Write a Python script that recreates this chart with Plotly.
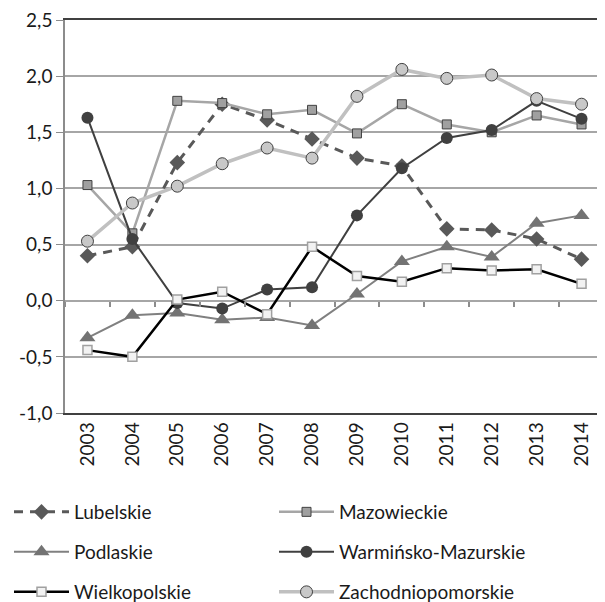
import plotly.graph_objects as go

years = ["2003", "2004", "2005", "2006", "2007", "2008", "2009", "2010", "2011", "2012", "2013", "2014"]
lubelskie = [0.40, 0.48, 1.23, 1.75, 1.61, 1.44, 1.27, 1.20, 0.64, 0.63, 0.55, 0.37]
mazowieckie = [1.03, 0.60, 1.78, 1.76, 1.66, 1.70, 1.49, 1.75, 1.57, 1.50, 1.65, 1.57]
podlaskie = [-0.33, -0.13, -0.11, -0.17, -0.15, -0.22, 0.06, 0.35, 0.48, 0.39, 0.69, 0.76]
warminsko = [1.63, 0.55, -0.02, -0.07, 0.10, 0.12, 0.76, 1.18, 1.45, 1.52, 1.78, 1.62]
wielkopolskie = [-0.44, -0.50, 0.01, 0.08, -0.12, 0.48, 0.22, 0.17, 0.29, 0.27, 0.28, 0.15]
zachodniopomorskie = [0.53, 0.87, 1.02, 1.22, 1.36, 1.27, 1.82, 2.06, 1.98, 2.01, 1.80, 1.75]
y_ticks = [-1.0, -0.5, 0.0, 0.5, 1.0, 1.5, 2.0, 2.5]
y_tick_labels = ["-1,0", "-0,5", "0,0", "0,5", "1,0", "1,5", "2,0", "2,5"]

fig = go.Figure()

# helper trace (invisible) carrying the category tick marks on the y=0 axis
fig.add_trace(go.Scatter(
    x=years, y=wielkopolskie, xaxis="x2", yaxis="y", mode="lines",
    line=dict(width=0), opacity=0, showlegend=False, hoverinfo="skip",
))

fig.add_trace(go.Scatter(
    x=years, y=lubelskie, name="Lubelskie", mode="lines+markers", legend="legend",
    line=dict(color="#595959", width=3, dash="9px,7px"),
    marker=dict(symbol="diamond", size=12, color="#595959"),
))
fig.add_trace(go.Scatter(
    x=years, y=mazowieckie, name="Mazowieckie", mode="lines+markers", legend="legend",
    line=dict(color="#a6a6a6", width=2.5),
    marker=dict(symbol="square", size=9, color="#a0a0a0", line=dict(color="#404040", width=1)),
))
fig.add_trace(go.Scatter(
    x=years, y=podlaskie, name="Podlaskie", mode="lines+markers", legend="legend2",
    line=dict(color="#808080", width=2),
    marker=dict(symbol="triangle-up", size=14, color="#737373"),
))
fig.add_trace(go.Scatter(
    x=years, y=warminsko, name="Warmińsko-Mazurskie", mode="lines+markers", legend="legend2",
    line=dict(color="#404040", width=2),
    marker=dict(symbol="circle", size=12, color="#404040"),
))
fig.add_trace(go.Scatter(
    x=years, y=wielkopolskie, name="Wielkopolskie", mode="lines+markers", legend="legend3",
    line=dict(color="#000000", width=2.5),
    marker=dict(symbol="square", size=9, color="#f2f2f2", line=dict(color="#a0a0a0", width=1.5)),
))
fig.add_trace(go.Scatter(
    x=years, y=zachodniopomorskie, name="Zachodniopomorskie", mode="lines+markers", legend="legend3",
    line=dict(color="#c0c0c0", width=3.5),
    marker=dict(symbol="circle", size=12, color="#c8c8c8", line=dict(color="#404040", width=1)),
))

# the page body has an 8px margin: figure is 597x594, drawn at (8, 8)
W, H = 597, 594
ML, MR, MT, MB = 57, 1, 12, 189
plot_w = W - ML - MR
plot_h = H - MT - MB
lx = (1 - ML) / plot_w


def leg(y_px_ref):
    return dict(
        orientation="h", x=lx, xanchor="left", y=-(y_px_ref - 413) / plot_h, yanchor="middle",
        entrywidth=195, entrywidthmode="pixels", itemwidth=55,
        font=dict(size=19), bgcolor="rgba(0,0,0,0)",
    )


fig.update_layout(
    width=W, height=H,
    margin=dict(l=ML, r=MR, t=MT, b=MB, autoexpand=False),
    paper_bgcolor="white", plot_bgcolor="white",
    font=dict(family="Lato, Open Sans, sans-serif", size=19, color="#1a1a1a"),
    xaxis=dict(
        type="category", range=[-0.5, 11.5],
        showgrid=False, showline=True, linecolor="#404040", linewidth=1.5, mirror=True,
        ticks="", tickangle=-90, tickfont=dict(size=19),
    ),
    xaxis2=dict(
        type="category", overlaying="x", anchor="free", position=1 / 3.5,
        range=[-0.5, 11.5], showgrid=False, showline=False, showticklabels=False,
        ticks="outside", tickson="boundaries", ticklen=5, tickcolor="#8c8c8c", tickwidth=1.5,
    ),
    yaxis=dict(
        range=[-1.0, 2.5], tickvals=y_ticks, ticktext=y_tick_labels,
        showgrid=True, gridcolor="#a6a6a6", gridwidth=1.5,
        showline=True, linecolor="#8c8c8c", linewidth=1.5, mirror=True,
        ticks="outside", ticklen=7, tickcolor="#8c8c8c", zeroline=False,
        tickfont=dict(size=19), ticklabeloverflow="allow",
    ),
    legend=leg(512),
    legend2=leg(552),
    legend3=leg(592),
)

fig.write_html("out.html")
